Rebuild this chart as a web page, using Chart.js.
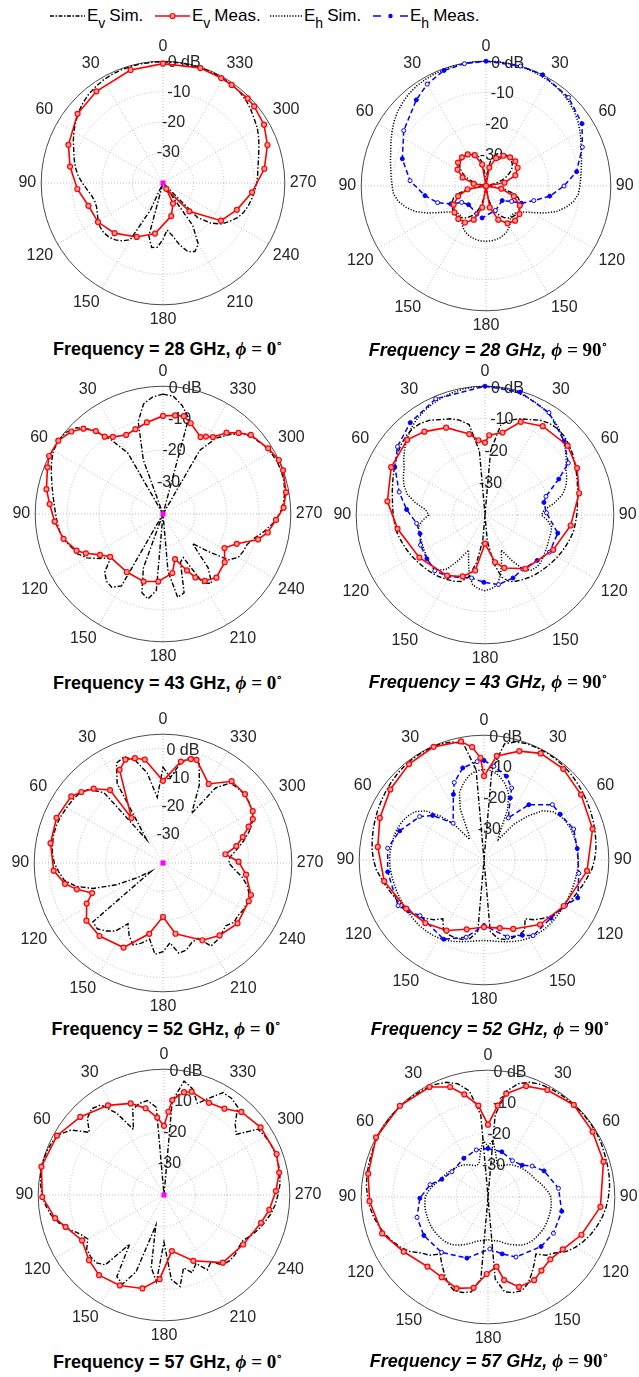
<!DOCTYPE html>
<html lang="en">
<head>
  <meta charset="UTF-8">
  <title>Radiation patterns, E-plane and H-plane</title>
  <script src="https://cdn.jsdelivr.net/npm/chart.js"></script>
  <style>
    body {
      margin: 0;
      background: #fff;
      font-family: "Liberation Sans", Arial, sans-serif;
    }

    #figure {
      position: relative;
      width: 639px;
      height: 1377px;
      overflow: hidden;
    }

    .key {
      position: absolute;
      top: 4px;
      height: 24px;
      display: flex;
      align-items: center;
      font-size: 17px;
      color: #000;
      white-space: nowrap;
    }

    .key svg { margin-right: 2px; }

    .sub {
      position: relative;
      top: 7px;
      font-size: 14px;
      margin-right: 4px;
    }

    .panel { position: absolute; }

    .caption {
      position: absolute;
      transform: translate(-50%, -50%);
      font-size: 18px;
      font-weight: bold;
      white-space: nowrap;
      color: #000;
    }

    .caption.it { font-style: italic; }

    .math { font-family: "Liberation Serif", "DejaVu Serif", serif; font-size: 19px; }
    .math i { font-style: italic; }
    .math b { font-style: normal; }
    .math sup { font-size: 11px; vertical-align: 8px; line-height: 0; }
  </style>
</head>
<body>
  <div id="figure">
    <!-- Legend shared by all eight patterns -->
    <span class="key" style="left: 50px"><svg width="35" height="12"><line x1="0" y1="6" x2="35" y2="6" stroke="#000" stroke-width="1.5" stroke-dasharray="4 1.5 1.5 1.5"/></svg>E<span class="sub">v</span>Sim.</span>
    <span class="key" style="left: 155px"><svg width="35" height="12"><line x1="0" y1="6" x2="35" y2="6" stroke="#f00" stroke-width="1.6"/><circle cx="17.5" cy="6" r="2.5" fill="#ff9c9c" stroke="#f00" stroke-width="1.2"/></svg>E<span class="sub">v</span>Meas.</span>
    <span class="key" style="left: 270px"><svg width="32" height="12"><line x1="0" y1="6" x2="32" y2="6" stroke="#000" stroke-width="1.5" stroke-dasharray="1.2 1.6"/></svg>E<span class="sub">h</span>Sim.</span>
    <span class="key" style="left: 373px"><svg width="35" height="12"><line x1="0" y1="6" x2="35" y2="6" stroke="#00f" stroke-width="1.5" stroke-dasharray="8 19"/><circle cx="17.5" cy="6" r="2.2" fill="#00f"/></svg>E<span class="sub">h</span>Meas.</span>
  </div>

  <script>
    // ---- data: angle in degrees (counter-clockwise from 0 at top), level in dB ----

    // simulated curves are sampled every 5 degrees
    const simAngles = [0, 5, 10, 15, 20, 25, 30, 35, 40, 45, 50, 55, 60, 65, 70, 75, 80, 85, 90, 95,
      100, 105, 110, 115, 120, 125, 130, 135, 140, 145, 150, 155, 160, 165, 170, 175, 180, 185, 190, 195,
      200, 205, 210, 215, 220, 225, 230, 235, 240, 245, 250, 255, 260, 265, 270, 275, 280, 285, 290, 295,
      300, 305, 310, 315, 320, 325, 330, 335, 340, 345, 350, 355];

    // radial rings and their labels
    const ringValues = [-40, -30, -20, -10, 0];
    const ringLabelValues = [-30, -20, -10, 0];
    const ringLabelText = ['-30', '-20', '-10', '0 dB'];

    // E_h measured in the phi = 0 cut sits at the floor (centre mark)
    const floorDeg = [0];
    const floorDb = [-40];

    // 28 GHz, phi = 0
    const ev28p0Sim = [
      -0.2, -0.2, -0.2, -0.3, -0.4, -0.6, -0.9, -1.4, -2.0, -2.8, -3.8, -5.0,
      -6.2, -7.5, -8.8, -9.8, -10.8, -12.0, -13.5, -15.0, -16.2, -16.8, -16.8, -16.2,
      -15.4, -14.8, -14.6, -14.9, -15.6, -16.8, -18.5, -30, -40, -22, -18.5, -18.8,
      -21.5, -24.5, -22.5, -19, -16, -15.2, -16.8, -23, -40, -24, -19.5, -16.5,
      -14.8, -13, -11.8, -11, -10.4, -9.8, -9.2, -8.8, -8.3, -7.5, -6.5, -5.3,
      -4.2, -3.4, -2.4, -1.5, -0.9, -0.6, -0.4, -0.3, -0.2, -0.2, -0.2, -0.2];
    const ev28p0MeasDeg = [0, 16, 36, 51, 68, 80, 94, 107, 121, 136, 154, 171, 194, 206, 209, 223, 237, 250,
      264, 278, 290, 300, 310, 315, 325, 331, 342];
    const ev28p0MeasDb = [-0.8, -1.4, -2.8, -3.9, -6.5, -9.0, -11.8, -14.4, -15.1, -17.1, -20.3, -23.2, -28.8,
      -32.5, -37.8, -27.3, -17.3, -14.2, -10.6, -6.4, -3.5, -1.7, -0.9, -0.7, -0.7, -0.6, -0.3];

    // 28 GHz, phi = 90
    const ev28p90Sim = [
      -40, -36, -32, -30, -29, -28.5, -28.3, -28.2, -28.3, -28.5, -29, -29.8,
      -31, -32.5, -34.5, -37, -40, -40, -40, -38, -34, -31, -29, -28,
      -27.3, -27, -26.8, -26.8, -27, -27.5, -28.3, -29.5, -31, -33, -36, -39,
      -40, -39, -36, -33, -31, -29.5, -28.3, -27.5, -27, -26.8, -26.8, -27,
      -27.3, -28, -29, -31, -34, -38, -40, -40, -40, -37, -34.5, -32.5,
      -31, -29.8, -29, -28.5, -28.3, -28.2, -28.3, -28.5, -29, -30, -32, -36];
    const eh28p90Sim = [
      0, 0, -0.1, -0.2, -0.3, -0.5, -0.7, -1.0, -1.5, -2.2, -3, -4,
      -5.2, -6.4, -7.5, -8.3, -9, -9.5, -9.9, -10.3, -11.5, -13.5, -16, -19.5,
      -23, -25.5, -26.8, -27.5, -27.5, -26.5, -25, -24, -23.3, -22.8, -22.5, -22.3,
      -22.3, -22.3, -22.5, -22.8, -23.3, -24, -25, -26.5, -27.5, -27.5, -26.8, -25.5,
      -23, -19.5, -16, -13.5, -11.5, -10.3, -9.9, -9.5, -9, -8.3, -7.5, -6.4,
      -5.2, -4, -3, -2.2, -1.5, -1.0, -0.7, -0.5, -0.3, -0.2, -0.1, 0];
    const ev28p90MeasDeg = [0, 10, 20, 30, 40, 50, 60, 70, 80, 90, 100, 110, 120, 130, 140, 150, 160, 170,
      180, 190, 200, 210, 220, 230, 240, 250, 260, 270, 280, 290, 300, 310, 320, 330, 340, 350];
    const ev28p90MeasDb = [-40, -33, -29.5, -28.3, -28, -28.3, -29.5, -32, -36, -40, -34, -30.5, -28, -26.8,
      -26.2, -26.5, -28.5, -33, -40, -33, -28.5, -26.2, -25.5, -26, -27.5, -30.5, -35, -40, -34, -30,
      -28.3, -27.7, -28, -28.8, -30.5, -34];
    const eh28p90MeasDeg = [0, 10, 20, 30, 39, 56, 72, 86, 99, 109, 117, 124, 137, 162, 173, 201, 228, 239,
      244, 253, 261, 270, 279, 292, 303, 317, 333, 344];
    const eh28p90MeasDb = [0, -0.2, -0.6, -2.3, -4.5, -8.2, -11.8, -15.6, -20.2, -23.6, -27.3, -30.6, -31.8,
      -30.6, -29.7, -31.6, -33, -30.4, -27.4, -24, -19.3, -15, -10.6, -6.7, -3.3, -1.2, 0, 0];

    // 43 GHz, phi = 0
    const ev43p0Sim = [
      -2.5, -3.2, -5, -10, -22, -40, -18, -11.5, -5.5, -1.8, -0.3, 0,
      -0.4, -1.5, -2.8, -4, -5, -5.8, -6.4, -6.8, -7.2, -8.2, -9.5, -10.5,
      -12.5, -15.7, -18.6, -14.2, -12.5, -12, -14, -40, -22, -14.5, -13, -16,
      -40, -22, -13.5, -14.5, -24, -25, -15, -13.5, -18, -27, -22, -15,
      -12.8, -12.3, -12, -10.5, -8, -5.5, -3.5, -2.2, -1.3, -0.8, -0.6, -0.7,
      -1.2, -2, -3, -4.5, -7.5, -11, -17, -40, -40, -9, -5.5, -3];
    const ev43p0MeasDeg = [0, 10, 18, 25, 33, 37, 39, 43, 48, 55, 63, 68, 78, 85, 94, 104, 113, 117, 123, 129,
      148, 164, 176, 189, 195, 203, 207, 212, 220, 232, 241, 248, 255, 260, 267, 273, 280, 290, 295, 302,
      312, 317, 322, 327, 331, 334, 343, 348, 353];
    const ev43p0MeasDb = [-9.3, -10.9, -12.1, -12.7, -11.2, -9.7, -6.6, -3.5, -1.4, 0, 0, -1, -2.7, -4.4, -6,
      -7.9, -10.6, -12.9, -16.5, -18.7, -18.6, -18, -18.8, -21.3, -25.4, -20.8, -17.7, -15.3, -14, -15.5,
      -18, -15.1, -9.2, -6.7, -4.6, -2.2, -0.9, 0, 0, -1.2, -3, -5.3, -7.7, -11.3, -12.3, -13.2, -10.3,
      -8.7, -8.9];

    // 43 GHz, phi = 90
    const ev43p90Sim = [
      -40, -20, -11.5, -9.5, -8.2, -7.3, -6, -5.2, -5, -5.3, -6, -6.8,
      -7.8, -8.7, -9.5, -10.2, -10.8, -11.2, -11.5, -11.8, -12, -12.5, -13, -13.5,
      -14, -14.5, -15, -15.4, -15.8, -16.3, -16.8, -17.3, -18, -20, -25, -32,
      -40, -32, -25, -20, -18, -17.3, -16.8, -16.3, -15.8, -15.4, -15, -14.5,
      -14, -13.5, -13, -12.5, -12, -11.8, -11.5, -11.2, -10.8, -10.2, -9.5, -8.7,
      -7.8, -6.8, -6, -5.3, -5, -5.2, -6, -7.3, -8.2, -9.5, -11.5, -20];
    const eh43p90Sim = [
      0, -0.1, -0.3, -0.7, -1.2, -1.8, -2.5, -3.4, -4.5, -6, -7.5, -9.2,
      -11, -12, -13.2, -15, -18, -21.5, -22.5, -20.5, -19, -18.8, -18.8, -18.5,
      -18.2, -17.8, -17.3, -17.2, -17.6, -19.5, -24, -28, -25, -21, -18, -17,
      -16.5, -17, -18, -21, -25, -28, -24, -19.5, -17.6, -17.2, -17.3, -17.8,
      -18.2, -18.5, -18.8, -18.8, -19, -20.5, -22.5, -21.5, -18, -15, -13.2, -12,
      -11, -9.2, -7.5, -6, -4.5, -3.4, -2.5, -1.8, -1.2, -0.7, -0.3, -0.1];
    const ev43p90MeasDeg = [0, 5, 11, 24, 36, 46, 63, 82, 99, 123, 148, 160, 170, 180, 192, 200, 217, 243,
      263, 283, 297, 310, 327, 339, 348, 357];
    const ev43p90MeasDb = [-17.5, -16.7, -14.4, -10.3, -8, -6.4, -7.3, -9.4, -12.5, -15.7, -17.8, -19.7,
      -22.5, -31.1, -25, -22.5, -19.1, -16.2, -13.2, -10, -7.9, -6.5, -7.1, -9, -13.8, -15.2];
    const eh43p90MeasDeg = [0, 23, 39, 52, 62, 75, 86, 97, 106, 115, 127, 138, 149, 168, 179, 191, 204, 215,
      229, 240, 256, 272, 282, 287, 296, 302, 313, 328, 344];
    const eh43p90MeasDb = [0, -0.8, -3.1, -5.5, -8.3, -12.4, -15.6, -18.6, -19, -17.9, -17.4, -16.7, -17.7,
      -20, -19.1, -18, -18.6, -19.5, -18.5, -16.9, -16.7, -20.9, -21.3, -20.2, -14.5, -9.5, -6.4, -2.5, -0.3];

    // 52 GHz, phi = 0 (axis runs up to +5 dB)
    const ev52p0Sim = [
      -6.5, -17, -8, -3, -0.5, -1.5, -8, -30, -8, -3.5, -2, -1.5,
      -1.2, -0.8, -0.5, -0.5, -0.8, -1.2, -2, -3.5, -5, -8.5, -14, -22,
      -30, -35, -8, -7.5, -9, -11, -15.5, -12, -9.5, -11, -13, -8,
      -9, -12, -8, -8.5, -10.5, -11, -6.5, -7, -8, -9, -7.7, -8,
      -7.5, -7.5, -8, -9.5, -12, -15, -17, -16.5, -14, -11, -8, -5.5,
      -4, -3.2, -2.8, -3, -3.5, -8, -20, -10, -3, -1.5, -4.5, -10];
    const ev52p0MeasDeg = [0, 10, 15, 20, 25, 35, 36, 43, 49, 54, 67, 80, 94, 102, 107, 113, 118, 127, 139,
      155, 169, 180, 190, 207, 218, 231, 246, 250, 262, 271, 278, 283, 288, 293, 296, 300, 310, 320, 330,
      342, 345, 350];
    const ev52p0MeasDb = [-11.3, -3.3, -2.1, -1.6, -4.1, -20.8, -8.5, -4.5, -2.2, -0.4, 0.4, -0.1, -1.7, -5,
      -8.5, -13.1, -9.8, -6.5, -6.2, -7.4, -14.8, -21.2, -14.9, -9.7, -7.9, -6.5, -7.2, -7.3, -10.7, -13.6,
      -18, -13.7, -10.7, -7.5, -5.1, -3.8, -2.6, -2.7, -8.1, -2.1, -2.4, -4];

    // 52 GHz, phi = 90
    const ev52p90Sim = [
      -40, -11, -2.2, -0.8, -0.3, -0.2, -0.2, -0.3, -0.5, -0.8, -1.2, -1.6,
      -2, -2.4, -2.8, -3.2, -3.6, -4, -4.6, -5.3, -6.5, -7.5, -8.5, -9.3,
      -10.1, -11, -12, -13.5, -15, -17, -14, -13.5, -13.4, -13.6, -14.5, -17,
      -40, -17, -14.5, -13.6, -13.4, -13.5, -14, -17, -15, -13.5, -12, -11,
      -10.1, -9.3, -8.5, -7.5, -6.5, -5.3, -4.6, -4, -3.6, -3.2, -2.8, -2.4,
      -2, -1.6, -1.2, -0.8, -0.5, -0.3, -0.2, -0.2, -0.3, -0.8, -2.2, -11];
    const eh52p90Sim = [
      -11, -11.3, -12.5, -14.5, -17, -22, -30, -32, -25, -20, -15.5, -13,
      -11.8, -11, -10.5, -10.2, -10, -9.8, -9.7, -9.8, -10, -10.2, -10.3, -10.4,
      -10.5, -10.5, -10.5, -10.5, -10.6, -10.8, -11.1, -11.6, -12.2, -12.9, -13.5, -14,
      -14.2, -14, -13.5, -12.9, -12.2, -11.6, -11.1, -10.8, -10.6, -10.5, -10.5, -10.5,
      -10.5, -10.4, -10.3, -10.2, -10, -9.8, -9.7, -9.8, -10, -10.2, -10.5, -11,
      -11.8, -13, -15.5, -20, -25, -32, -30, -22, -17, -14.5, -12.5, -11.3];
    const ev52p90MeasDeg = [0, 2, 6, 11, 24, 38, 53, 68, 83, 102, 122, 137, 152, 166, 180, 193, 203, 221, 240,
      264, 286, 304, 319, 332, 342, 353];
    const ev52p90MeasDb = [-13.1, -7.2, -3.6, -1.3, -0.3, -1, -2.4, -4, -5.7, -7.3, -10.6, -12.4, -14.4,
      -17.1, -18.5, -17.6, -16, -12.6, -10.5, -6.8, -3.8, -2.5, -1.3, -1.3, -3.3, -6.4];
    const eh52p90MeasDeg = [0, 4, 13, 21, 25, 40, 49, 56, 71, 83, 97, 118, 124, 131, 153, 167, 180, 197, 207,
      213, 229, 241, 248, 262, 277, 289, 301, 309, 321, 330, 337, 339, 345, 354];
    const eh52p90MeasDb = [-8.1, -8.4, -9.7, -13.4, -16.8, -24.6, -18.2, -15.1, -11.4, -8.9, -8.9, -8.8,
      -10.8, -12.8, -11.5, -14.6, -19, -14.2, -12.9, -11.1, -11.6, -10.1, -7.6, -9.3, -9.9, -9.6, -11.5,
      -11.8, -17.2, -24.4, -18.4, -15.3, -12.2, -9.8];

    // 57 GHz, phi = 0
    const ev57p0Sim = [
      -40, -12, -9.5, -9.8, -11, -17, -10, -5, -4.2, -5.5, -9, -4,
      -1.5, -0.6, -0.2, 0, -0.2, -0.6, -1.2, -2.2, -3.5, -5.5, -8, -10.6,
      -12, -10, -9.5, -9.5, -11, -21, -10, -8.7, -14, -30, -16.6, -12.3,
      -25, -13, -10.5, -16, -13.7, -16, -12.5, -14, -11, -10.5, -10.5, -11,
      -11, -9.5, -8, -6.8, -5.5, -4.5, -3.8, -3, -2.6, -2.3, -2.2, -2.4,
      -2.8, -3.5, -10, -8, -3.5, -2.5, -2.4, -6, -9, -5, -3.2, -10];
    const ev57p0MeasDeg = [0, 5, 12, 20, 32, 47, 61, 77, 91, 102, 108, 119, 131, 141, 154, 167, 177, 188, 204,
      221, 238, 254, 262, 272, 281, 290, 305, 317, 325, 334, 345, 349, 355, 357];
    const ev57p0MeasDb = [-18, -15.3, -11.8, -9, -6.4, -3.6, -1.1, 0, -1.3, -4.6, -7.1, -10.2, -8.4, -7.2, -8,
      -9.5, -13.2, -22, -17.1, -11.5, -10.3, -7.9, -6.2, -4.4, -2.7, -1.9, -2.5, -3.9, -6.5, -7.4, -6,
      -6.7, -9.7, -13.5];

    // 57 GHz, phi = 90
    const ev57p90Sim = [
      -40, -14, -6, -3, -1.5, -0.8, -0.5, -0.4, -0.3, -0.2, -0.2, -0.2,
      -0.3, -0.5, -0.8, -1, -1.2, -1.5, -2, -2.6, -3.4, -4.4, -5.5, -6.8,
      -8.2, -10, -12.5, -14, -16.5, -14.5, -12.3, -10, -8.6, -8.8, -9.6, -14,
      -40, -14, -9.6, -8.8, -8.6, -10, -12.3, -14.5, -16.5, -14, -12.5, -10,
      -8.2, -6.8, -5.5, -4.4, -3.4, -2.6, -2, -1.5, -1.2, -1, -0.8, -0.5,
      -0.3, -0.2, -0.2, -0.2, -0.3, -0.4, -0.5, -0.8, -1.5, -3, -6, -14];
    const eh57p90Sim = [
      -24, -22, -26, -29, -29.5, -29, -28.3, -27.5, -27, -26.5, -26, -25.5,
      -25, -24.5, -24, -23, -22, -21, -20.2, -20, -19.8, -19.8, -19.8, -19.8,
      -19.8, -20, -20.2, -20.4, -20.8, -21.5, -22.5, -23.5, -24.5, -25.5, -26, -26.3,
      -26.5, -26.3, -26, -25.5, -24.5, -23.5, -22.5, -21.5, -20.8, -20.4, -20.2, -20,
      -19.8, -19.8, -19.8, -19.8, -19.8, -20, -20.2, -21, -22, -23, -24, -24.5,
      -25, -25.5, -26, -26.5, -27, -27.5, -28.3, -29, -29.5, -29, -26, -22];
    const ev57p90MeasDeg = [0, 6, 13, 19, 28, 44, 62, 79, 92, 109, 123, 139, 150, 161, 171, 179, 187, 191,
      199, 209, 216, 225, 235, 248, 265, 287, 302, 317, 331, 341, 350, 354];
    const ev57p90MeasDb = [-17.2, -11, -6.8, -3.3, -0.7, 0, 0, -1.5, -2.6, -4.7, -8.3, -10.9, -10.8, -9.5,
      -11, -15.7, -17.9, -13.3, -10, -10, -11.3, -12.2, -11.2, -8.2, -4.4, -1.9, -1.1, -0.3, -1.4, -3,
      -6.9, -11];
    const eh57p90MeasDeg = [0, 14, 32, 55, 69, 78, 91, 106, 121, 140, 161, 182, 194, 205, 227, 241, 259, 277,
      295, 305, 313, 326, 343];
    const eh57p90MeasDb = [-24.7, -24.7, -25.6, -26.1, -24.4, -21.3, -18.5, -16.7, -16.4, -17.2, -19.6,
      -23.6, -21.5, -19.1, -17.1, -16.4, -16.3, -17.6, -20.5, -23, -25.3, -26.2, -25.1];

    // ---- layout of the eight polar axes (centre, radius, caption position) ----
    const panels = [
      { freq: '28', cut: 0, cx: 163.3, cy: 183.3, radius: 122, rMax: 0, capX: 167.5, capY: 348.5,
        evSim: ev28p0Sim, evMeas: [ev28p0MeasDeg, ev28p0MeasDb] },
      { freq: '28', cut: 90, cx: 485.7, cy: 185.7, radius: 125, rMax: 0, capX: 488, capY: 350,
        evSim: ev28p90Sim, evMeas: [ev28p90MeasDeg, ev28p90MeasDb],
        ehSim: eh28p90Sim, ehMeas: [eh28p90MeasDeg, eh28p90MeasDb] },
      { freq: '43', cut: 0, cx: 163.3, cy: 514, radius: 128, rMax: 0, capX: 167.5, capY: 683,
        evSim: ev43p0Sim, evMeas: [ev43p0MeasDeg, ev43p0MeasDb] },
      { freq: '43', cut: 90, cx: 485, cy: 515, radius: 128.5, rMax: 0, capX: 488, capY: 682,
        evSim: ev43p90Sim, evMeas: [ev43p90MeasDeg, ev43p90MeasDb],
        ehSim: eh43p90Sim, ehMeas: [eh43p90MeasDeg, eh43p90MeasDb] },
      { freq: '52', cut: 0, cx: 162.7, cy: 863.3, radius: 129, rMax: 5, capX: 166, capY: 1029,
        evSim: ev52p0Sim, evMeas: [ev52p0MeasDeg, ev52p0MeasDb] },
      { freq: '52', cut: 90, cx: 484, cy: 860, radius: 125, rMax: 0, capX: 490, capY: 1029,
        evSim: ev52p90Sim, evMeas: [ev52p90MeasDeg, ev52p90MeasDb],
        ehSim: eh52p90Sim, ehMeas: [eh52p90MeasDeg, eh52p90MeasDb] },
      { freq: '57', cut: 0, cx: 164, cy: 1195, radius: 126, rMax: 0, capX: 167.5, capY: 1361.5,
        evSim: ev57p0Sim, evMeas: [ev57p0MeasDeg, ev57p0MeasDb] },
      { freq: '57', cut: 90, cx: 487.7, cy: 1196.7, radius: 127, rMax: 0, capX: 489, capY: 1361,
        evSim: ev57p90Sim, evMeas: [ev57p90MeasDeg, ev57p90MeasDb],
        ehSim: eh57p90Sim, ehMeas: [eh57p90MeasDeg, eh57p90MeasDb] }
    ];

    const FONT = '"Liberation Sans", Arial, Helvetica, sans-serif';
    const TEXT = '#262626';
    const LABEL_LINE = 16 * 1.2 + 5;   // point label height + padding taken off the radius
    const RING_LABEL_SLOT = 10;        // tick labels sit 10 degrees clockwise of the top

    Chart.defaults.font.family = FONT;

    // Radar slots run clockwise from the top, one per degree;
    // the patterns are measured counter-clockwise, so slot = 360 - angle.
    const slots = Array.from({ length: 360 }, (_, i) => i);
    const slot = deg => (360 - (Math.round(deg) % 360)) % 360;

    function place(degs, dbs) {
      const out = new Array(360).fill(null);
      degs.forEach((d, k) => { out[slot(d)] = dbs[k]; });
      return out;
    }

    // measured E_h markers alternate between filled dots and open circles
    function alternate(degs, a, b) {
      const out = new Array(360).fill(a);
      degs.forEach((d, k) => { out[slot(d)] = k % 2 ? b : a; });
      return out;
    }

    // dB tick labels drawn along a ray just right of the top axis
    const ringLabels = {
      id: 'ringLabels',
      beforeDatasetsDraw(chart) {
        const r = chart.scales.r;
        const ctx = chart.ctx;
        ctx.save();
        ctx.font = '16px ' + FONT;
        ctx.fillStyle = TEXT;
        ctx.textAlign = 'center';
        ctx.textBaseline = 'middle';
        ringLabelValues.forEach((v, k) => {
          const p = r.getPointPositionForValue(RING_LABEL_SLOT, v);
          ctx.fillText(ringLabelText[k], p.x, p.y);
        });
        ctx.restore();
      }
    };

    function buildDatasets(p) {
      const sets = [];
      if (p.cut === 0) {
        sets.push({
          label: 'E_h Meas.',
          data: place(floorDeg, floorDb),
          showLine: false,
          borderWidth: 0,
          pointStyle: 'rect',
          pointRadius: 3.6,
          pointBorderWidth: 0,
          pointBackgroundColor: '#ff00ff'
        });
      }
      sets.push({
        label: 'E_v Meas.',
        data: place(p.evMeas[0], p.evMeas[1]),
        borderColor: '#ff0000',
        borderWidth: 1.6,
        pointRadius: 2.5,
        pointBorderWidth: 1.2,
        pointBorderColor: '#ff0000',
        pointBackgroundColor: '#ff9c9c'
      });
      if (p.ehMeas) {
        sets.push({
          label: 'E_h Meas.',
          data: place(p.ehMeas[0], p.ehMeas[1]),
          borderColor: '#0000ff',
          borderWidth: 1.5,
          borderDash: [5, 3],
          pointRadius: 2,
          pointBorderWidth: 1,
          pointBorderColor: '#0000ff',
          pointBackgroundColor: alternate(p.ehMeas[0], '#0000ff', '#ffffff')
        });
      }
      sets.push({
        label: 'E_v Sim.',
        data: place(simAngles, p.evSim),
        borderColor: '#000000',
        borderWidth: 1.4,
        borderDash: [5, 2, 1.5, 2],
        pointRadius: 0
      });
      if (p.ehSim) {
        sets.push({
          label: 'E_h Sim.',
          data: place(simAngles, p.ehSim),
          borderColor: '#000000',
          borderWidth: 1.5,
          borderDash: [1.2, 1.6],
          pointRadius: 0
        });
      }
      return sets.map(s => Object.assign({ spanGaps: true, fill: false, tension: 0 }, s));
    }

    const figure = document.getElementById('figure');

    panels.forEach(p => {
      const wrap = document.createElement('div');
      wrap.className = 'panel';
      const canvas = document.createElement('canvas');
      canvas.width = 330;
      canvas.height = 2 * Math.round(p.radius + LABEL_LINE);
      wrap.appendChild(canvas);
      figure.appendChild(wrap);

      const rings = p.rMax > 0 ? ringValues.concat([p.rMax]) : ringValues;

      const chart = new Chart(canvas, {
        type: 'radar',
        data: { labels: slots, datasets: buildDatasets(p) },
        options: {
          responsive: false,
          animation: false,
          events: [],
          layout: { padding: 0 },
          plugins: { legend: { display: false }, tooltip: { enabled: false } },
          scales: {
            r: {
              min: -40,
              max: p.rMax,
              afterBuildTicks: scale => { scale.ticks = rings.map(v => ({ value: v })); },
              ticks: { display: false },
              grid: {
                circular: true,
                color: c => (c.tick && c.tick.value === p.rMax ? '#4a4a4a' : '#bdbdbd'),
                lineWidth: 1,
                borderDash: c => (c.tick && c.tick.value === p.rMax ? [] : [1, 2])
              },
              border: {
                dash: c => (c.tick && c.tick.value === p.rMax ? [] : [1, 2])
              },
              angleLines: {
                color: '#bdbdbd',
                lineWidth: c => (c.index % 30 === 0 ? 1 : 0),
                borderDash: [1, 2]
              },
              pointLabels: {
                color: TEXT,
                padding: 5,
                font: { family: FONT, size: 16 },
                callback: (label, i) => {
                  const a = (360 - i) % 360;
                  if (a % 30 !== 0) return '';
                  return String(p.cut === 90 ? Math.min(a, 360 - a) : a);
                }
              }
            }
          }
        },
        plugins: [ringLabels]
      });

      const r = chart.scales.r;
      wrap.style.left = (p.cx - r.xCenter) + 'px';
      wrap.style.top = (p.cy - r.yCenter) + 'px';

      const cap = document.createElement('div');
      cap.className = 'caption' + (p.cut === 90 ? ' it' : '');
      cap.style.left = p.capX + 'px';
      cap.style.top = p.capY + 'px';
      cap.innerHTML = 'Frequency = ' + p.freq + ' GHz, <span class="math"><i>ϕ</i> = <b>' + p.cut +
        '</b><sup>∘</sup></span>';
      figure.appendChild(cap);
    });
  </script>
</body>
</html>
